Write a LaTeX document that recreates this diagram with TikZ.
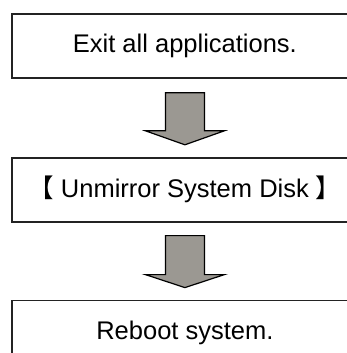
\documentclass[tikz,border=0pt]{standalone}
\usepackage{fontspec}
\setmainfont{Liberation Sans}
\newfontfamily\cjk{Noto Sans CJK JP}
\usetikzlibrary{positioning,calc}
\definecolor{ArrowGray}{RGB}{155,152,146}
\definecolor{BoxLine}{RGB}{35,35,35}

\begin{document}
\begin{tikzpicture}[
    x=1pt, y=1pt,
    stepbox/.style={rectangle, draw=BoxLine, line width=1.8pt, fill=white,
                    minimum width=346pt, minimum height=64pt, inner sep=0pt,
                    align=center, font=\fontsize{25.5}{30}\selectfont},
    bigarrow/.style={draw=black, line width=1.2pt, fill=ArrowGray, line join=miter}
]
    \path[use as bounding box, clip] (0,0) rectangle (347,-353);

    \node[stepbox, anchor=north west] (exit) at (11,-13) {Exit all applications.};
    \node[stepbox, below=78pt of exit] (unmirror) {{\cjk 【}\ Unmirror System Disk\ {\cjk 】}};
    \node[stepbox, below=77pt of unmirror] (reboot) {Reboot system.};

    % block arrows between the steps
    \draw[bigarrow] ($(exit.south)+(-19.5,-14)$) -- ++(39,0) -- ++(0,-38) -- ++(20,0)
        -- ($(unmirror.north)+(0,12)$) -- ++(-39.5,14) -- ++(20,0) -- cycle;
    \draw[bigarrow] ($(unmirror.south)+(-19.5,-13)$) -- ++(39,0) -- ++(0,-39) -- ++(20,0)
        -- ($(reboot.north)+(0,12)$) -- ++(-39.5,13) -- ++(20,0) -- cycle;
\end{tikzpicture}
\end{document}
